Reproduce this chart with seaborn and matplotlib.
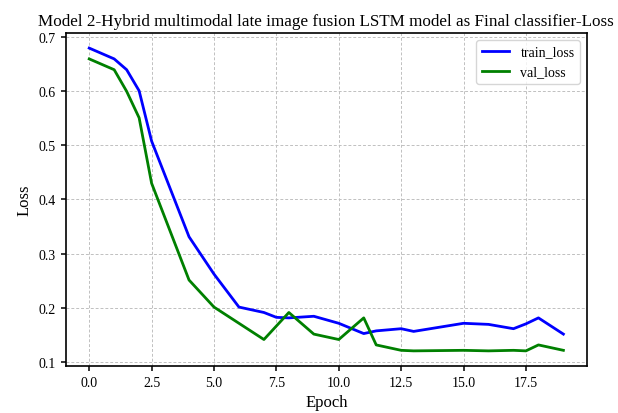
import numpy as np
import pandas as pd
import matplotlib
matplotlib.use("Agg")
import matplotlib.pyplot as plt
import seaborn as sns

# Épocas tal como aparecen en la gráfica
epocas = [0, 1, 1.5, 2, 2.5, 4, 5, 6, 7, 7.5, 8, 9, 10, 11, 11.5, 12.5, 13, 15, 16, 17, 17.5, 18, 19]
train_loss = [0.680, 0.660, 0.640, 0.601, 0.508, 0.331, 0.262, 0.201, 0.191, 0.182, 0.181, 0.184, 0.171,
              0.152, 0.157, 0.161, 0.156, 0.171, 0.169, 0.161, 0.170, 0.181, 0.151]
val_loss = [0.660, 0.640, 0.600, 0.551, 0.430, 0.251, 0.201, 0.171, 0.141, 0.166, 0.191, 0.151, 0.141,
            0.181, 0.131, 0.121, 0.120, 0.121, 0.120, 0.121, 0.120, 0.131, 0.121]

df = pd.DataFrame({'epoch': epocas * 2,
                   'loss': train_loss + val_loss,
                   'serie': ['train_loss'] * len(epocas) + ['val_loss'] * len(epocas)})

plt.rcParams['font.family'] = ['Liberation Serif', 'DejaVu Serif']

fig, ax = plt.subplots(figsize=(6.18, 4.14), dpi=100)
fig.subplots_adjust(left=0.106, right=0.950, top=0.918, bottom=0.1135)

sns.lineplot(data=df, x='epoch', y='loss', hue='serie', palette={'train_loss': 'blue', 'val_loss': 'green'},
             linewidth=2, ax=ax)

ax.set_title('Model 2-Hybrid multimodal late image fusion LSTM model as Final classifier-Loss', fontsize=12.3)
ax.set_xlabel('Epoch', fontsize=12)
ax.set_ylabel('Loss', fontsize=12)
ax.grid(True, linestyle=(0, (3, 2)), color='#c0c0c0', linewidth=0.7)
ax.tick_params(labelsize=10, width=1.1)
for sp in ax.spines.values():
    sp.set_linewidth(1.2)
ax.legend(loc='upper right', fontsize=10)

fig.savefig('out.png', dpi=100)
